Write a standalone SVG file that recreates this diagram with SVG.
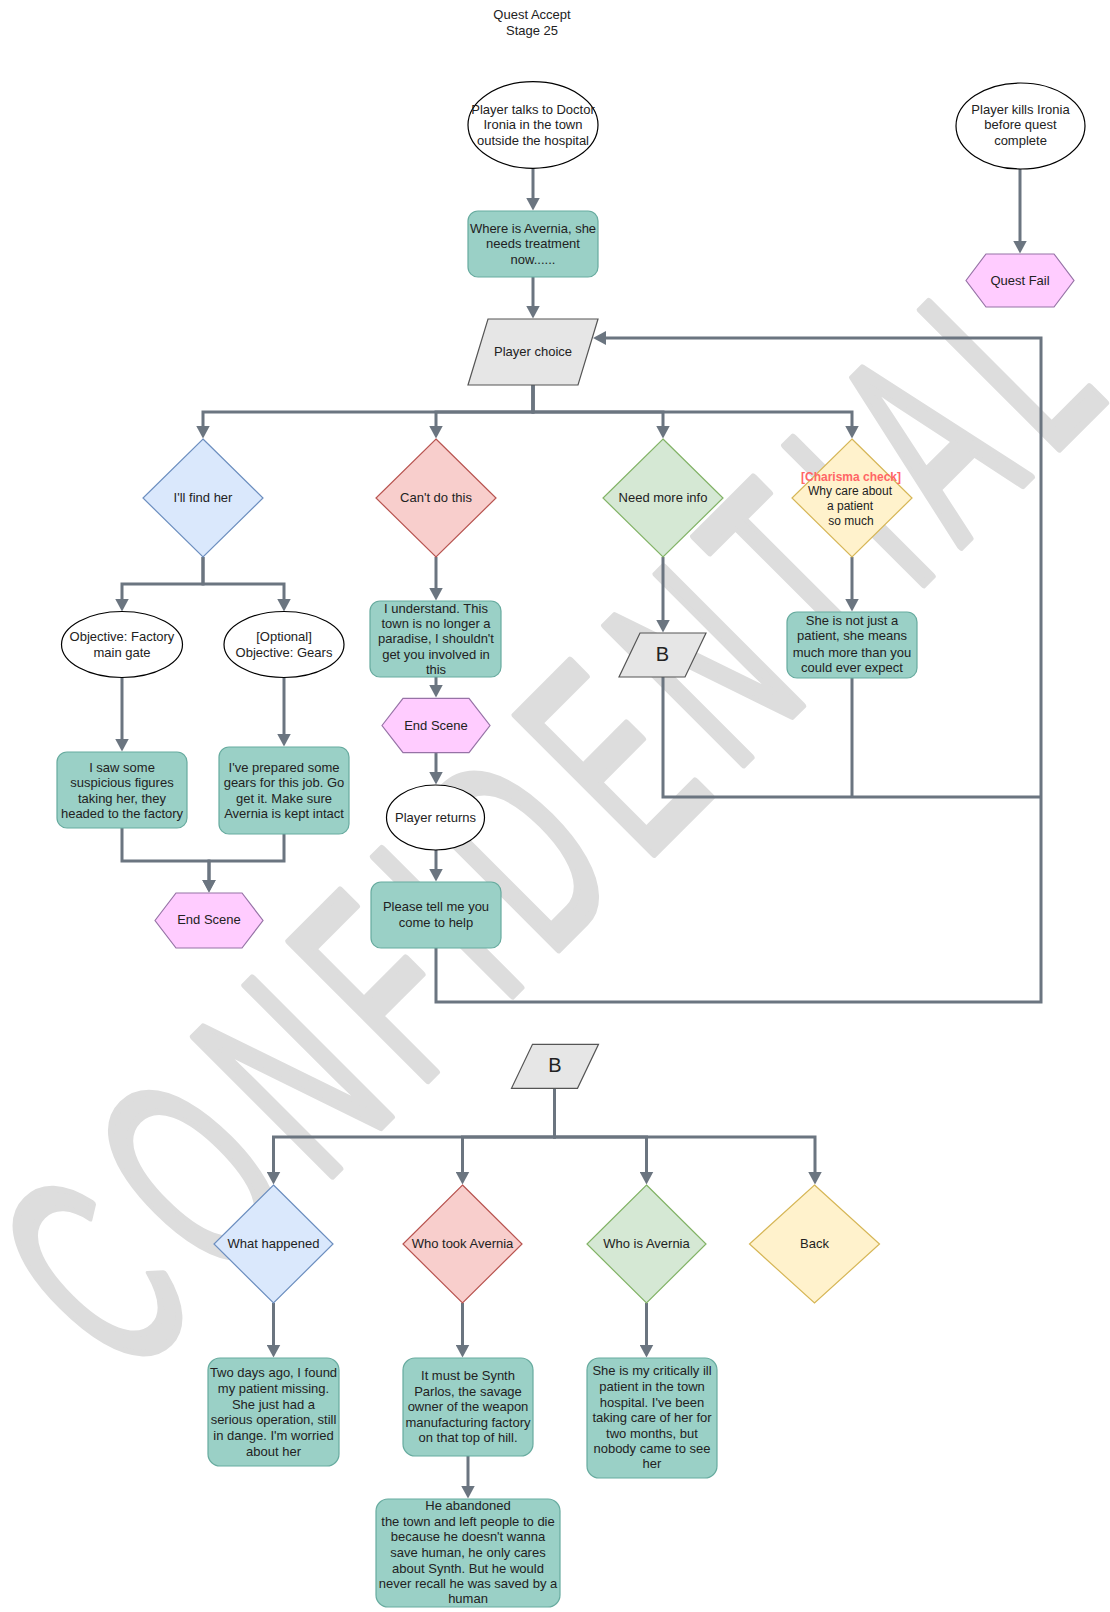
<svg xmlns="http://www.w3.org/2000/svg" width="1110" height="1612" viewBox="0 0 1110 1612">
  <style>
    .t { font-family: "Liberation Sans", Arial, sans-serif; font-size: 13px; fill: #222; text-anchor: middle; }
    .t12 { font-size: 12px; }
    .chk { font-weight: bold; fill: #ff6666; }
    .big { font-size: 20px; }
    .conn { fill: none; stroke: #6b7580; stroke-width: 3; }
    .teal { fill: #9ad0c6; stroke: #67ab9f; stroke-width: 1.2; }
    .ell { fill: #ffffff; stroke: #000000; stroke-width: 1.2; }
    .hex { fill: #ffccff; stroke: #9673a6; stroke-width: 1.2; }
    .para { fill: #e6e6e6; stroke: #555555; stroke-width: 1.2; }
    .blue { fill: #dae8fc; stroke: #6c8ebf; stroke-width: 1.2; }
    .red { fill: #f8cecc; stroke: #b85450; stroke-width: 1.2; }
    .green { fill: #d5e8d4; stroke: #82b366; stroke-width: 1.2; }
    .yellow { fill: #fff2cc; stroke: #d6b656; stroke-width: 1.2; }
    .wm { font-family: "Liberation Sans", Arial, sans-serif; font-size: 284px; fill: #dddddd; stroke: #dddddd; stroke-width: 8; stroke-linejoin: round; letter-spacing: 45px; }
  </style>
  <defs>
    <marker id="arrow" viewBox="0 0 13 14" refX="0.5" refY="7" markerWidth="13" markerHeight="14" markerUnits="userSpaceOnUse" orient="auto">
      <path d="M0,0 L13,7 L0,14 z" fill="#6b7580"/>
    </marker>
  </defs>

  <rect x="0" y="0" width="1110" height="1612" fill="#ffffff"/>

  <!-- diagonal watermark behind the chart -->
  <g id="watermark">
    <text class="wm" transform="rotate(-45) scale(0.54,1)" x="-1646" y="1066">CONFIDENTIAL</text>
  </g>

  <g id="title">
    <text class="t"><tspan x="532" y="18.5">Quest Accept</tspan><tspan x="532" y="35">Stage 25</tspan></text>
  </g>

  <!-- connectors -->
  <g id="connectors">
    <path class="conn" d="M533,168.3 V198" marker-end="url(#arrow)"/>
    <path class="conn" d="M533,277 V306" marker-end="url(#arrow)"/>
    <path class="conn" d="M533,385 V412 H203 V426" marker-end="url(#arrow)"/>
    <path class="conn" d="M533,385 V412 H436 V426" marker-end="url(#arrow)"/>
    <path class="conn" d="M533,385 V412 H663 V426" marker-end="url(#arrow)"/>
    <path class="conn" d="M533,385 V412 H852 V426" marker-end="url(#arrow)"/>
    <path class="conn" d="M203,557 V584 H122 V599" marker-end="url(#arrow)"/>
    <path class="conn" d="M203,557 V584 H284 V599" marker-end="url(#arrow)"/>
    <path class="conn" d="M122,677.5 V739" marker-end="url(#arrow)"/>
    <path class="conn" d="M284,677.5 V734" marker-end="url(#arrow)"/>
    <path class="conn" d="M122,828 V861 H209 V880" marker-end="url(#arrow)"/>
    <path class="conn" d="M284,834 V861 H209 V880" marker-end="url(#arrow)"/>
    <path class="conn" d="M436,557 V588" marker-end="url(#arrow)"/>
    <path class="conn" d="M436,677 V685" marker-end="url(#arrow)"/>
    <path class="conn" d="M436,752.7 V772" marker-end="url(#arrow)"/>
    <path class="conn" d="M436,850 V869" marker-end="url(#arrow)"/>
    <path class="conn" d="M436,948 V1002 H1041 V338 H605.5" marker-end="url(#arrow)"/>
    <path class="conn" d="M663,557 V620" marker-end="url(#arrow)"/>
    <path class="conn" d="M663,677 V797 H1041"/>
    <path class="conn" d="M852,557 V599" marker-end="url(#arrow)"/>
    <path class="conn" d="M852,678 V797"/>
    <path class="conn" d="M1020,168.5 V241" marker-end="url(#arrow)"/>
    <path class="conn" d="M554.5,1088 V1137 H273.5 V1172" marker-end="url(#arrow)"/>
    <path class="conn" d="M554.5,1088 V1137 H462.5 V1172" marker-end="url(#arrow)"/>
    <path class="conn" d="M554.5,1088 V1137 H646.5 V1172" marker-end="url(#arrow)"/>
    <path class="conn" d="M554.5,1088 V1137 H815 V1172" marker-end="url(#arrow)"/>
    <path class="conn" d="M273.5,1303 V1345" marker-end="url(#arrow)"/>
    <path class="conn" d="M462.5,1303 V1345" marker-end="url(#arrow)"/>
    <path class="conn" d="M646.5,1303 V1345" marker-end="url(#arrow)"/>
    <path class="conn" d="M468,1456 V1486" marker-end="url(#arrow)"/>
  </g>

  <!-- upper flow -->
  <g id="start">
    <ellipse class="ell" cx="533" cy="125" rx="65" ry="43.3"/>
    <text class="t"><tspan x="533" y="113.6">Player talks to Doctor</tspan><tspan x="533" y="129.4">Ironia in the town</tspan><tspan x="533" y="145.2">outside the hospital</tspan></text>
  </g>
  <g id="kill">
    <ellipse class="ell" cx="1020.5" cy="126" rx="64.5" ry="43"/>
    <text class="t"><tspan x="1020.5" y="113.8">Player kills Ironia</tspan><tspan x="1020.5" y="129.2">before quest</tspan><tspan x="1020.5" y="144.6">complete</tspan></text>
  </g>
  <g id="quest-fail">
    <polygon class="hex" points="966,280.5 986,254 1054,254 1074,280.5 1054,307 986,307"/>
    <text class="t" x="1020" y="285">Quest Fail</text>
  </g>
  <g id="where">
    <rect class="teal" x="468" y="211" width="130" height="66" rx="10"/>
    <text class="t"><tspan x="533" y="232.8">Where is Avernia, she</tspan><tspan x="533" y="248">needs treatment</tspan><tspan x="533" y="263.6">now......</tspan></text>
  </g>
  <g id="player-choice">
    <polygon class="para" points="488,319 598,319 578,385 468,385"/>
    <text class="t" x="533" y="356.2">Player choice</text>
  </g>

  <g id="find-her">
    <polygon class="blue" points="203,439 263,498 203,557 143,498"/>
    <text class="t" x="203" y="502.3">I'll find her</text>
  </g>
  <g id="cant-do">
    <polygon class="red" points="436,439 496,498 436,557 376,498"/>
    <text class="t" x="436" y="502.3">Can't do this</text>
  </g>
  <g id="more-info">
    <polygon class="green" points="663,439 723,498 663,557 603,498"/>
    <text class="t" x="663" y="502.3">Need more info</text>
  </g>
  <g id="charisma">
    <polygon class="yellow" points="852,439 912,498 852,557 792,498"/>
    <text class="t t12"><tspan class="chk" x="851" y="481">[Charisma check]</tspan><tspan x="850" y="495">Why care about</tspan><tspan x="850" y="510.3">a patient</tspan><tspan x="851" y="524.5">so much</tspan></text>
  </g>

  <g id="obj-factory">
    <ellipse class="ell" cx="122" cy="644.5" rx="60.5" ry="33"/>
    <text class="t"><tspan x="122" y="640.6">Objective: Factory</tspan><tspan x="122" y="656.6">main gate</tspan></text>
  </g>
  <g id="obj-gears">
    <ellipse class="ell" cx="284" cy="644.5" rx="60" ry="33"/>
    <text class="t"><tspan x="284" y="640.6">[Optional]</tspan><tspan x="284" y="656.6">Objective: Gears</tspan></text>
  </g>
  <g id="saw-figures">
    <rect class="teal" x="57" y="752" width="130" height="76" rx="10"/>
    <text class="t"><tspan x="122" y="771.8">I saw some</tspan><tspan x="122" y="787">suspicious figures</tspan><tspan x="122" y="802.8">taking her, they</tspan><tspan x="122" y="818.2">headed to the factory</tspan></text>
  </g>
  <g id="gears">
    <rect class="teal" x="219" y="747" width="130" height="87" rx="10"/>
    <text class="t"><tspan x="284" y="771.8">I've prepared some</tspan><tspan x="284" y="787">gears for this job. Go</tspan><tspan x="284" y="802.8">get it. Make sure</tspan><tspan x="284" y="818.2">Avernia is kept intact</tspan></text>
  </g>
  <g id="end-scene-1">
    <polygon class="hex" points="155,920.5 176,893 242,893 263,920.5 242,948 176,948"/>
    <text class="t" x="209" y="924">End Scene</text>
  </g>

  <g id="understand">
    <rect class="teal" x="370" y="601" width="131" height="76" rx="10"/>
    <text class="t"><tspan x="436" y="612.8">I understand. This</tspan><tspan x="436" y="628">town is no longer a</tspan><tspan x="436" y="643">paradise, I shouldn't</tspan><tspan x="436" y="658.6">get you involved in</tspan><tspan x="436" y="673.8">this</tspan></text>
  </g>
  <g id="end-scene-2">
    <polygon class="hex" points="382,725.5 403,698.3 469,698.3 490,725.5 469,752.7 403,752.7"/>
    <text class="t" x="436" y="729.8">End Scene</text>
  </g>
  <g id="player-returns">
    <ellipse class="ell" cx="435.5" cy="817.5" rx="49" ry="32.5"/>
    <text class="t" x="435.5" y="821.8">Player returns</text>
  </g>
  <g id="tell-me">
    <rect class="teal" x="371" y="882" width="130" height="66" rx="10"/>
    <text class="t"><tspan x="436" y="911.2">Please tell me you</tspan><tspan x="436" y="927">come to help</tspan></text>
  </g>

  <g id="b-ref">
    <polygon class="para" points="640,633 706,633 685,677 619,677"/>
    <text class="t big" x="662.5" y="661">B</text>
  </g>
  <g id="not-patient">
    <rect class="teal" x="787" y="612" width="130" height="66" rx="10"/>
    <text class="t"><tspan x="852" y="625.2">She is not just a</tspan><tspan x="852" y="640.4">patient, she means</tspan><tspan x="852" y="656.6">much more than you</tspan><tspan x="852" y="671.6">could ever expect</tspan></text>
  </g>

  <!-- lower flow -->
  <g id="b-entry">
    <polygon class="para" points="532.5,1044.3 598.5,1044.3 577.5,1088.3 511.5,1088.3"/>
    <text class="t big" x="555" y="1072.3">B</text>
  </g>
  <g id="what-happened">
    <polygon class="blue" points="273.5,1185 333,1244 273.5,1303 214,1244"/>
    <text class="t" x="273.5" y="1248.3">What happened</text>
  </g>
  <g id="who-took">
    <polygon class="red" points="462.5,1185 522,1244 462.5,1303 403,1244"/>
    <text class="t" x="462.5" y="1248.3">Who took Avernia</text>
  </g>
  <g id="who-is">
    <polygon class="green" points="646.5,1185 706,1244 646.5,1303 587,1244"/>
    <text class="t" x="646.5" y="1248.3">Who is Avernia</text>
  </g>
  <g id="back">
    <polygon class="yellow" points="814.5,1185 879.5,1244 814.5,1303 749.5,1244"/>
    <text class="t" x="814.5" y="1248.3">Back</text>
  </g>
  <g id="two-days">
    <rect class="teal" x="208" y="1358" width="131" height="108" rx="12"/>
    <text class="t"><tspan x="273.5" y="1376.8">Two days ago, I found</tspan><tspan x="273.5" y="1393.3">my patient missing.</tspan><tspan x="273.5" y="1408.7">She just had a</tspan><tspan x="273.5" y="1424.4">serious operation, still</tspan><tspan x="273.5" y="1440.1">in dange. I'm worried</tspan><tspan x="273.5" y="1455.5">about her</tspan></text>
  </g>
  <g id="synth">
    <rect class="teal" x="403" y="1358" width="130" height="98" rx="12"/>
    <text class="t"><tspan x="468" y="1380.4">It must be Synth</tspan><tspan x="468" y="1395.6">Parlos, the savage</tspan><tspan x="468" y="1411.1">owner of the weapon</tspan><tspan x="468" y="1427">manufacturing factory</tspan><tspan x="468" y="1441.7">on that top of hill.</tspan></text>
  </g>
  <g id="abandoned">
    <rect class="teal" x="376" y="1499" width="184" height="108" rx="12"/>
    <text class="t"><tspan x="468" y="1510.4">He abandoned</tspan><tspan x="468" y="1526.1">the town and left people to die</tspan><tspan x="468" y="1541.4">because he doesn't wanna</tspan><tspan x="468" y="1557.1">save human, he only cares</tspan><tspan x="468" y="1572.7">about Synth. But he would</tspan><tspan x="468" y="1588.4">never recall he was saved by a</tspan><tspan x="468" y="1603.4">human</tspan></text>
  </g>
  <g id="who-she-is">
    <rect class="teal" x="587" y="1358" width="130" height="120" rx="12"/>
    <text class="t"><tspan x="652" y="1375.1">She is my critically ill</tspan><tspan x="652" y="1391.4">patient in the town</tspan><tspan x="652" y="1406.7">hospital. I've been</tspan><tspan x="652" y="1421.7">taking care of her for</tspan><tspan x="652" y="1437.7">two months, but</tspan><tspan x="652" y="1453.1">nobody came to see</tspan><tspan x="652" y="1467.7">her</tspan></text>
  </g>
</svg>
